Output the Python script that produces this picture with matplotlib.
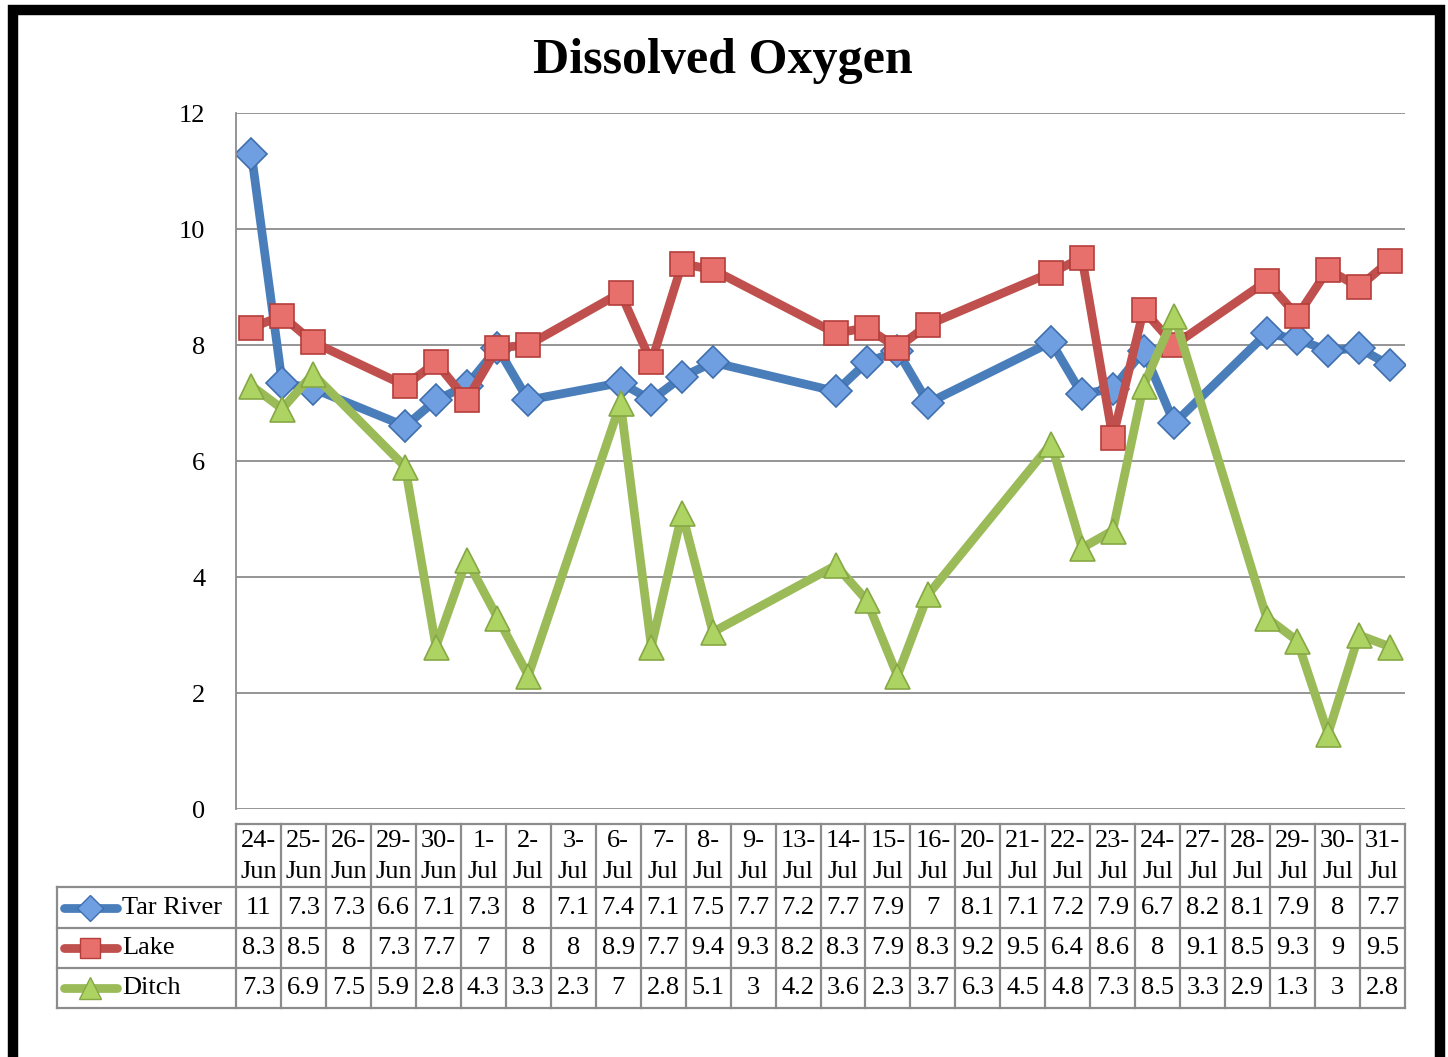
import pandas as pd
import matplotlib.pyplot as plt
from matplotlib.lines import Line2D
from matplotlib.patches import Rectangle

dates = ["24-Jun", "25-Jun", "26-Jun", "29-Jun", "30-Jun", "1-Jul", "2-Jul",
         "3-Jul", "6-Jul", "7-Jul", "8-Jul", "9-Jul", "13-Jul", "14-Jul",
         "15-Jul", "16-Jul", "20-Jul", "21-Jul", "22-Jul", "23-Jul", "24-Jul",
         "27-Jul", "28-Jul", "29-Jul", "30-Jul", "31-Jul"]
tar_river = [11.3, 7.35, 7.25, 6.6, 7.05, 7.3, 7.95, 7.05, 7.35, 7.05, 7.45,
             7.7, 7.2, 7.7, 7.9, 7.0, 8.05, 7.15, 7.25, 7.9, 6.65, 8.2, 8.1,
             7.9, 7.95, 7.65]
lake = [8.3, 8.5, 8.05, 7.3, 7.7, 7.05, 7.95, 8.0, 8.9, 7.7, 9.4, 9.3, 8.2,
        8.3, 7.95, 8.35, 9.25, 9.5, 6.4, 8.6, 8.0, 9.1, 8.5, 9.3, 9.0, 9.45]
ditch = [7.3, 6.9, 7.5, 5.9, 2.8, 4.3, 3.3, 2.3, 7.0, 2.8, 5.1, 3.05, 4.2,
         3.6, 2.3, 3.7, 6.3, 4.5, 4.8, 7.3, 8.5, 3.3, 2.9, 1.3, 3.0, 2.8]
# values as printed in the data table
tar_labels = ["11", "7.3", "7.3", "6.6", "7.1", "7.3", "8", "7.1", "7.4", "7.1",
              "7.5", "7.7", "7.2", "7.7", "7.9", "7", "8.1", "7.1", "7.2", "7.9",
              "6.7", "8.2", "8.1", "7.9", "8", "7.7"]
lake_labels = ["8.3", "8.5", "8", "7.3", "7.7", "7", "8", "8", "8.9", "7.7",
               "9.4", "9.3", "8.2", "8.3", "7.9", "8.3", "9.2", "9.5", "6.4",
               "8.6", "8", "9.1", "8.5", "9.3", "9", "9.5"]
ditch_labels = ["7.3", "6.9", "7.5", "5.9", "2.8", "4.3", "3.3", "2.3", "7", "2.8",
                "5.1", "3", "4.2", "3.6", "2.3", "3.7", "6.3", "4.5", "4.8", "7.3",
                "8.5", "3.3", "2.9", "1.3", "3", "2.8"]

FONT = "Liberation Serif"
W, H = 1448, 1057
FS = 19


def fx(px):
    return px / W


def fy(py):
    return 1 - py / H


def draw():
    d = pd.to_datetime([s + "-2015" for s in dates], format="%d-%b-%Y")
    days = (d - d[0]).days.to_numpy()

    fig = plt.figure(figsize=(W / 100, H / 100), dpi=100)
    fig.patches.append(Rectangle((fx(13), fy(1100)), fx(1427), fy(10) - fy(1100),
                                 transform=fig.transFigure, fill=False,
                                 edgecolor="black", linewidth=7.5))
    fig.text(fx(723), fy(61), "Dissolved Oxygen", ha="center", va="center",
             fontsize=36, fontweight="bold", family=FONT)

    ax = fig.add_axes([fx(236), fy(809), fx(1405 - 236), fy(113) - fy(809)])
    series = [
        ("Tar River", tar_river, tar_labels, "#4A7EBB", "D", "#6F9FE0", "#3F6FAF", 16),
        ("Lake", lake, lake_labels, "#C0504D", "s", "#E8706C", "#B33E3B", 17),
        ("Ditch", ditch, ditch_labels, "#9BBB59", "^", "#ADD363", "#86A844", 18),
    ]
    for name, vals, _, c, m, mf, me, ms in series:
        ax.plot(days, vals, color=c, lw=6.3, marker=m, markersize=ms,
                markerfacecolor=mf, markeredgecolor=me, markeredgewidth=1.2,
                solid_joinstyle="round")
    ax.set_xlim(-0.5, days[-1] + 0.5)
    ax.set_ylim(0, 12)
    ax.set_yticks(range(0, 13, 2))
    ax.set_xticks([])
    ax.grid(axis="y", color="#8C8C8C", lw=1.3)
    ax.set_axisbelow(True)
    for s in ["top", "right", "bottom"]:
        ax.spines[s].set_visible(False)
    ax.spines["left"].set_color("#8C8C8C")
    ax.spines["left"].set_linewidth(1.3)
    ax.tick_params(axis="y", length=0, pad=22, labelsize=FS)
    for t in ax.get_yticklabels():
        t.set_family(FONT)

    # data table
    x0, x1 = 236, 1405
    n = len(dates)
    cw = (x1 - x0) / n
    rows = [824, 887, 928, 968, 1008]
    lc = "#8C8C8C"
    for r in rows:
        left = x0 if r == rows[0] else 57
        fig.add_artist(Line2D([fx(left), fx(x1)], [fy(r), fy(r)], color=lc, lw=1.6))
    for i in range(n + 1):
        xx = x0 + i * cw
        fig.add_artist(Line2D([fx(xx), fx(xx)], [fy(rows[0]), fy(rows[-1])], color=lc, lw=1.6))
    fig.add_artist(Line2D([fx(57), fx(57)], [fy(rows[1]), fy(rows[-1])], color=lc, lw=1.6))

    for i, lab in enumerate(dates):
        xc = x0 + (i + 0.5) * cw
        day, mon = lab.split("-")
        fig.text(fx(xc), fy(841), day + "-", ha="center", va="center",
                 fontsize=FS, family=FONT)
        fig.text(fx(xc), fy(872), mon, ha="center", va="center",
                 fontsize=FS, family=FONT)
    for k, (name, _, labels, c, m, mf, me, ms) in enumerate(series):
        yc = (rows[k + 1] + rows[k + 2]) / 2
        fig.add_artist(Line2D([fx(64), fx(117)], [fy(yc), fy(yc)], color=c, lw=6.3,
                              solid_capstyle="round"))
        fig.add_artist(Line2D([fx(90)], [fy(yc)], marker=m, markersize=ms * 0.85,
                              markerfacecolor=mf, markeredgecolor=me,
                              markeredgewidth=1.0))
        fig.text(fx(122), fy(yc), name, ha="left", va="center",
                 fontsize=FS, family=FONT)
        for i, lab in enumerate(labels):
            xc = x0 + (i + 0.5) * cw
            fig.text(fx(xc), fy(yc), lab, ha="center", va="center",
                     fontsize=FS, family=FONT)

    plt.savefig("out.png", dpi=100)


def main():
    draw()


if __name__ == "__main__":
    main()
